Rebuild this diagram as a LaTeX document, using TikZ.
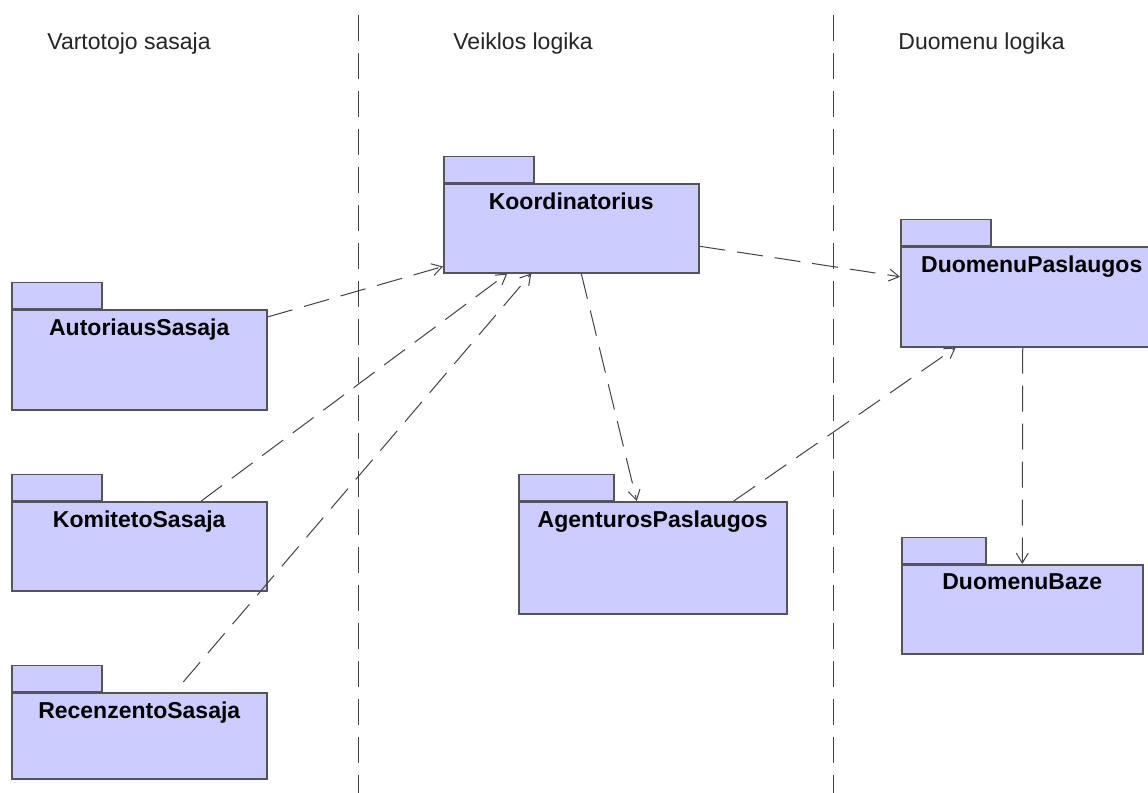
\documentclass[tikz,border=0pt]{standalone}
\usepackage{fontspec}
\setmainfont{Liberation Sans}
\usetikzlibrary{arrows.meta,positioning}

\definecolor{pkgfill}{HTML}{CCCCFF}
\definecolor{pkgline}{HTML}{555555}
\definecolor{depline}{HTML}{444444}

\tikzset{
  pkg/.style={draw=pkgline, fill=pkgfill, line width=0.75pt, inner sep=0pt},
  pkgsize/.style n args={2}{minimum width=#1*0.5pt, minimum height=#2*0.5pt},
  pkgtab/.style={pkg, minimum width=45pt, minimum height=13pt},
  pkgname/.style={font=\bfseries\fontsize{11.5}{13}\selectfont, inner sep=0pt},
  layer/.style={font=\fontsize{11.5}{13}\selectfont, text=black!85, anchor=base west, inner sep=0pt},
  tier/.style={draw=black!75, line width=0.5pt, dash pattern=on 13pt off 6pt},
  dep/.style={draw=depline, line width=0.5pt, dash pattern=on 13pt off 6pt,
    -{Straight Barb[length=5pt,width=6pt]}}
}

\begin{document}
\begin{tikzpicture}[x=0.5pt,y=-0.5pt]
\useasboundingbox (0,0) rectangle (1148,793);
\clip (0,0) rectangle (1148,793);
\fill[white] (0,0) rectangle (1148,793);

% tier borders and titles
\draw[tier] (358,15) -- (358,793);
\draw[tier] (833,15) -- (833,793);
\node[layer] (vartotojas) at (47,49) {Vartotojo sasaja};
\node[layer] (veikla) at (453,49) {Veiklos logika};
\node[layer] (duomenys) at (898,49) {Duomenu logika};

% user interface packages
\node[pkg, pkgsize={255}{100}, anchor=north west] (autorius) at (11,309) {};
\node[pkgtab, above right=0pt of autorius.north west] (autoriustab) {};
\node[pkgname, below=4.5pt of autorius.north] {AutoriausSasaja};

\node[pkg, pkgsize={255}{89}, anchor=north west] (komitetas) at (11,501) {};
\node[pkgtab, above right=0pt of komitetas.north west] (komitetastab) {};
\node[pkgname, below=4.5pt of komitetas.north] {KomitetoSasaja};

\node[pkg, pkgsize={255}{86}, anchor=north west] (recenzentas) at (11,692) {};
\node[pkgtab, above right=0pt of recenzentas.north west] (recenzentastab) {};
\node[pkgname, below=4.5pt of recenzentas.north] {RecenzentoSasaja};

% business logic packages
\node[pkg, pkgsize={255}{89}, anchor=north west] (koord) at (443,183) {};
\node[pkgtab, above right=0pt of koord.north west] (koordtab) {};
\node[pkgname, below=4.5pt of koord.north] {Koordinatorius};

\node[pkg, pkgsize={268}{112}, anchor=north west] (agent) at (518,501) {};
\node[pkgtab, above right=0pt of agent.north west, minimum width=47.5pt] (agenttab) {};
\node[pkgname, below=4.5pt of agent.north] {AgenturosPaslaugos};

% data logic packages
\node[pkg, pkgsize={262}{100}, anchor=north west] (dpasl) at (900,246) {};
\node[pkgtab, above right=0pt of dpasl.north west] (dpasltab) {};
\node[pkgname, below=4.5pt of dpasl.north] {DuomenuPaslaugos};

\node[pkg, pkgsize={241}{89}, anchor=north west] (baze) at (901,564) {};
\node[pkgtab, above right=0pt of baze.north west, minimum width=42pt] (bazetab) {};
\node[pkgname, below=4.5pt of baze.north] {DuomenuBaze};

% dependencies
\draw[dep] ([yshift=-4pt]autorius.north east) -- ([yshift=3.5pt]koord.south west);
\draw[dep] ([xshift=31pt]komitetas.north) -- ([xshift=-32pt]koord.south);
\draw[dep] ([xshift=22pt,yshift=5pt]recenzentas.north) -- ([xshift=-20pt]koord.south);
\draw[dep] ([xshift=5pt]koord.south) -- ([xshift=-8pt]agent.north);
\draw[dep] ([yshift=-9pt]koord.east) -- ([yshift=10pt]dpasl.west);
\draw[dep] ([xshift=40.5pt]agent.north) -- ([xshift=-38pt]dpasl.south);
\draw[dep] ([xshift=-4.5pt]dpasl.south) -- (baze.north);
\end{tikzpicture}
\end{document}
